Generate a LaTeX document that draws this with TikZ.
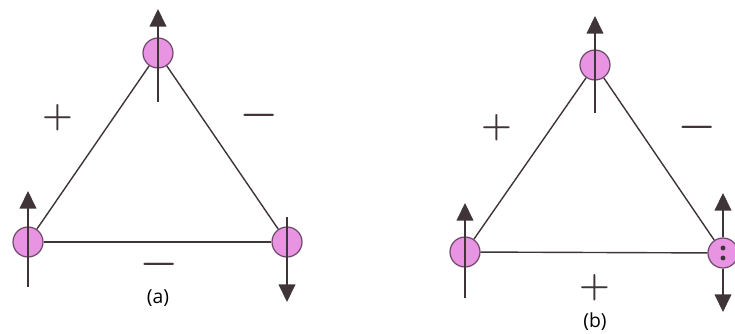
\documentclass[tikz,border=0pt]{standalone}
\usepackage{fontspec}
\newfontfamily\tagfont{Open Sans}
\usetikzlibrary{arrows.meta}
\definecolor{sitepink}{HTML}{E894E2}
\definecolor{siterim}{HTML}{6E4A6A}
\definecolor{ink}{HTML}{3F3539}
\tikzset{
  site/.style     = {draw=siterim, fill=sitepink, circle, line width=0.7pt,
                     inner sep=0pt, minimum size=0.6cm},
  bond/.style     = {draw=ink, line width=0.8pt},
  spin/.style     = {draw=ink, line width=0.8pt, -{Triangle[length=10pt,width=9.5pt]}},
  plussign/.style = {ink, inner sep=0pt, font=\fontsize{20}{20}\selectfont\bfseries},
  minussign/.style= {ink, inner sep=0pt, font=\fontsize{23}{23}\selectfont\bfseries},
  paneltag/.style = {font=\tagfont\fontsize{11}{13}\selectfont},
  spot/.style     = {fill=ink, circle, inner sep=0pt, minimum size=2.8pt},
}

\begin{document}
\begin{tikzpicture}[x=0.02cm,y=-0.02cm]
\useasboundingbox (0,0) rectangle (735,334);
% ---- (a) frustrated triangle ----
\begin{scope}[shift={(0,0)}]
\node[site] (TA) at (158,53) {};
\node[site] (LA) at (28,242) {};
\node[site] (RA) at (287,242) {};
\draw[bond] (TA) -- (LA);
\draw[bond] (TA) -- (RA);
\draw[bond] (LA) -- (RA);
% spins drawn through the sites
\coordinate (TAlo) at (158,102); \coordinate (TAhi) at (158,9);
\coordinate (LAlo) at (28,287);  \coordinate (LAhi) at (28,191);
\coordinate (RAhi) at (287,217); \coordinate (RAlo) at (287,302);
\draw[spin] (TAlo) -- (TAhi);
\draw[spin] (LAlo) -- (LAhi);
\draw[spin] (RAhi) -- (RAlo);
\node[plussign]  (sA1) at (58,118) {+};
\node[minussign] (sA2) at (259,120) {−};
\node[minussign] (sA3) at (159,269) {−};
\node[paneltag]  (capA) at (158,298) {(a)};
\end{scope}
% ---- (b) same triangle, third site undecided ----
\begin{scope}[shift={(437,10)}]
\node[site] (TB) at (158,55) {};
\node[site] (LB) at (28,242) {};
\node[site] (RB) at (286,243) {};
\draw[bond] (TB) -- (LB);
\draw[bond] (TB) -- (RB);
\draw[bond] (LB) -- (RB);
\coordinate (TBlo) at (158,103); \coordinate (TBhi) at (158,6);
\coordinate (LBlo) at (28,288);  \coordinate (LBhi) at (28,193);
\coordinate (RBhi) at (286,183); \coordinate (RBlo) at (286,302);
\draw[spin] (TBlo) -- (TBhi);
\draw[spin] (LBlo) -- (LBhi);
\draw[spin] (RB.north) -- (RBhi);
\draw[spin] (RB.south) -- (RBlo);
\node[spot] (dB1) at (286,238) {};
\node[spot] (dB2) at (286,248) {};
\node[plussign]  (sB1) at (60,118) {+};
\node[minussign] (sB2) at (260,122) {−};
\node[plussign]  (sB3) at (158,278) {+};
\node[paneltag]  (capB) at (158,312) {(b)};
\end{scope}
\end{tikzpicture}
\end{document}
